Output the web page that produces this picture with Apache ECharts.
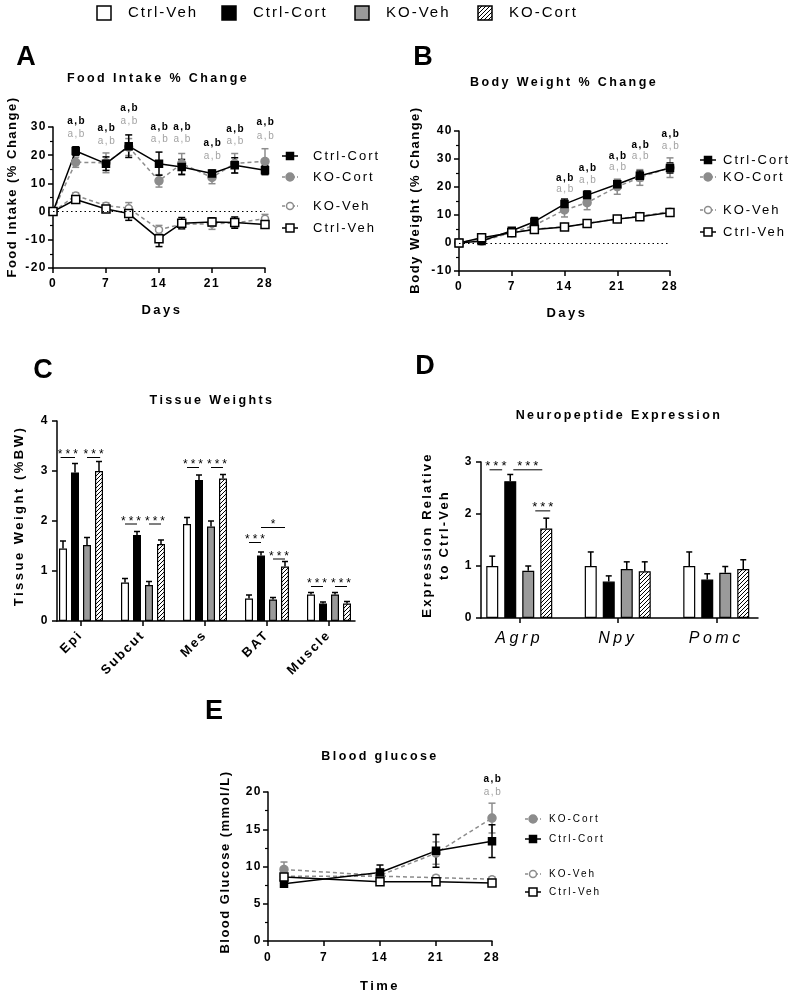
<!DOCTYPE html>
<html><head><meta charset="utf-8">
<script src="https://cdn.jsdelivr.net/npm/echarts@6/dist/echarts.min.js"></script>
<style>html,body{margin:0;padding:0;background:#fff}#c{width:790px;height:992px}</style>
</head><body><div id="c"></div>
<script>
// ---- letter spacing (GraphPad-like) : read "lsNN" marker from font family (tenths of px) ----
(function(){
  const P = CanvasRenderingContext2D.prototype;
  function sp(ctx){ const m = /ls(\d+)/.exec(ctx.font || ''); try{ ctx.letterSpacing = (m ? (+m[1]) / 10 : 0) + 'px'; }catch(e){} }
  const ft = P.fillText, st = P.strokeText, mt = P.measureText;
  P.fillText = function(){ sp(this); return ft.apply(this, arguments); };
  P.strokeText = function(){ sp(this); return st.apply(this, arguments); };
  P.measureText = function(){ sp(this); return mt.apply(this, arguments); };
})();

// ================= DATA =================
const groups = ['Ctrl-Veh', 'Ctrl-Cort', 'KO-Veh', 'KO-Cort'];

// A: Food intake % change
const daysAB = [0, 3, 7, 10, 14, 17, 21, 24, 28];
const foodCtrlCort    = [0, 21.5, 17.0, 23.2, 17.0, 15.8, 13.5, 16.4, 14.7];
const foodCtrlCortErr = [0, 1.5, 2.4, 4.0, 4.1, 2.7, 1.2, 2.7, 1.6];
const foodKoCort      = [0, 17.5, 17.3, 22.9, 10.9, 17.0, 12.1, 17.1, 17.8];
const foodKoCortErr   = [0, 1.8, 3.5, 3.0, 2.2, 3.6, 2.2, 3.5, 4.5];
const foodKoVeh       = [0, 5.7, 2.1, 1.2, -6.4, -4.5, -4.3, -4.0, -2.5];
const foodKoVehErr    = [0, 1.0, 1.0, 2.0, 1.5, 1.5, 2.0, 1.5, 1.5];
const foodCtrlVeh     = [0, 4.3, 0.9, -0.7, -9.6, -4.1, -3.7, -3.9, -4.6];
const foodCtrlVehErr  = [0, 1.0, 1.0, 2.4, 2.8, 2.0, 1.5, 2.0, 1.0];
const foodSigDays  = [3, 7, 10, 14, 17, 21, 24, 28];
const foodSigBlack = [32.0, 29.4, 36.5, 30.0, 29.8, 24.1, 29.2, 31.6];
const foodSigGray  = [27.4, 25.1, 32.2, 25.6, 25.6, 19.6, 25.1, 26.8];

// B: Body weight % change
const bwCtrlCort    = [0, 0.7, 4.4, 7.6, 13.9, 17.1, 21.0, 24.0, 26.8];
const bwCtrlCortErr = [0, 0.5, 0.8, 1.5, 1.8, 1.5, 1.3, 1.7, 1.8];
const bwKoCort      = [0, 0.7, 3.7, 6.3, 11.8, 14.4, 20.1, 23.4, 26.9];
const bwKoCortErr   = [0, 0.5, 0.8, 1.5, 2.5, 2.5, 2.7, 2.8, 3.5];
const bwKoVeh       = [0, 1.7, 3.7, 5.0, 5.8, 7.0, 8.6, 9.6, 11.2];
const bwKoVehErr    = [0, 0.5, 0.5, 0.5, 0.6, 0.5, 0.6, 0.7, 1.0];
const bwCtrlVeh     = [0, 1.9, 3.7, 4.8, 5.7, 7.0, 8.6, 9.4, 10.9];
const bwCtrlVehErr  = [0, 0.4, 0.5, 0.5, 0.5, 0.5, 0.5, 0.6, 0.8];
const bwSigDays  = [14, 17, 21, 24, 28];
const bwSigBlack = [23.3, 26.6, 31.1, 34.9, 38.7];
const bwSigGray  = [19.2, 22.4, 27.0, 31.0, 34.7];

// C: Tissue weights (%BW)
const tissues = ['Epi', 'Subcut', 'Mes', 'BAT', 'Muscle'];
const tisCtrlVeh     = [1.45, 0.77, 1.94, 0.45, 0.53];
const tisCtrlVehErr  = [0.15, 0.08, 0.13, 0.07, 0.04];
const tisCtrlCort    = [2.97, 1.72, 2.82, 1.31, 0.35];
const tisCtrlCortErr = [0.18, 0.07, 0.10, 0.07, 0.03];
const tisKoVeh       = [1.52, 0.72, 1.89, 0.43, 0.53];
const tisKoVehErr    = [0.15, 0.07, 0.11, 0.04, 0.04];
const tisKoCort      = [3.00, 1.54, 2.85, 1.09, 0.35];
const tisKoCortErr   = [0.19, 0.08, 0.08, 0.10, 0.04];
// [category, fromBar, toBar, y, text]
const tisSig = [[0,-0.2,1,3.27,'***'],[0,2,3.1,3.27,'***'],[1,0,1,1.94,'***'],[1,2,3,1.94,'***'],
  [2,0,1,3.07,'***'],[2,2,3,3.07,'***'],[3,0,1,1.57,'***'],[3,1,3,1.87,'*'],[3,2,3,1.24,'***'],
  [4,0,1,0.69,'***'],[4,2,3,0.69,'***']];

// D: Neuropeptide expression
const genes = ['Agrp', 'Npy', 'Pomc'];
const geneCtrlVeh     = [1.00, 1.00, 1.00];
const geneCtrlVehErr  = [0.19, 0.27, 0.27];
const geneCtrlCort    = [2.63, 0.70, 0.74];
const geneCtrlCortErr = [0.13, 0.11, 0.11];
const geneKoVeh       = [0.91, 0.94, 0.87];
const geneKoVehErr    = [0.09, 0.14, 0.12];
const geneKoCort      = [1.72, 0.90, 0.94];
const geneKoCortErr   = [0.20, 0.18, 0.18];
const geneSig = [[0,-0.15,0.55,2.85,'***'],[0,1.17,2.78,2.85,'***'],[0,2.39,3.22,2.06,'***']];

// E: Blood glucose
const glucDays = [2, 14, 21, 28];
const glucKoCort      = [9.6, 8.8, 11.8, 16.5];
const glucKoCortErr   = [1.0, 0.8, 1.5, 2.0];
const glucCtrlCort    = [7.7, 9.2, 12.1, 13.4];
const glucCtrlCortErr = [0.3, 1.0, 2.2, 2.2];
const glucKoVeh       = [8.7, 8.7, 8.5, 8.3];
const glucKoVehErr    = [0.3, 0.3, 0.3, 0.3];
const glucCtrlVeh     = [8.6, 7.95, 7.95, 7.8];
const glucCtrlVehErr  = [0.3, 0.3, 0.3, 0.3];
const glucSigDays  = [28];
const glucSigBlack = [21.7];
const glucSigGray  = [20.0];

// ================= STYLE =================
const FAM = ls => '"Liberation Sans", ls' + ls;
const GRAY = '#8c8c8c', BARGRAY = '#9a9a9a', SIGGRAY = '#a3a3a3';
const hc = document.createElement('canvas'); hc.width = 4; hc.height = 4;
(function(){ const g = hc.getContext('2d'); g.fillStyle = '#fff'; g.fillRect(0,0,4,4);
  g.strokeStyle = '#000'; g.lineWidth = 1; g.beginPath();
  g.moveTo(0,4); g.lineTo(4,0); g.moveTo(-1,1); g.lineTo(1,-1); g.moveTo(3,5); g.lineTo(5,3); g.stroke(); })();
const HATCH = { image: hc, repeat: 'repeat' };
const BARFILL = { 'Ctrl-Veh': '#fff', 'Ctrl-Cort': '#000', 'KO-Veh': BARGRAY, 'KO-Cort': HATCH };
const STY = {
  'Ctrl-Cort': { symbol: 'rect',   size: 7, fill: '#000', stroke: '#000', line: '#000', dash: 'solid' },
  'KO-Cort':   { symbol: 'circle', size: 8, fill: GRAY,   stroke: GRAY,   line: GRAY,   dash: [4, 3] },
  'KO-Veh':    { symbol: 'circle', size: 7, fill: '#fff', stroke: GRAY,   line: GRAY,   dash: [4, 3] },
  'Ctrl-Veh':  { symbol: 'rect',   size: 8, fill: '#fff', stroke: '#000', line: '#000', dash: 'solid' }
};

const AXLINE = { show: true, onZero: false, lineStyle: { color: '#000', width: 1.5 } };
const AXTICK = { show: true, inside: false, length: 5, lineStyle: { color: '#000', width: 1.5 } };
function lab(extra) { return Object.assign({ color: '#000', fontWeight: 'bold', fontSize: 12, fontFamily: FAM(15) }, extra || {}); }
function valAxis(gi, min, max, interval, labelExtra, minor) {
  const a = { type: 'value', gridIndex: gi, min, max, interval, axisLine: AXLINE, axisTick: AXTICK,
    axisLabel: lab(labelExtra), splitLine: { show: false } };
  if (minor) { a.minorTick = { show: true, splitNumber: 2, length: 3, lineStyle: { color: '#000', width: 1.2 } }; a.minorSplitLine = { show: false }; }
  return a;
}

// ================= SERIES BUILDERS =================
function lineSeries(name, ai, xs, ys, extra) {
  const s = STY[name];
  return Object.assign({ type: 'line', name, xAxisIndex: ai, yAxisIndex: ai,
    data: xs.map((x, i) => [x, ys[i]]), symbol: s.symbol, symbolSize: s.size, showSymbol: true,
    itemStyle: { color: s.fill, borderColor: s.stroke, borderWidth: 1.5 },
    lineStyle: { color: s.line, width: 1.5, type: s.dash }, z: 3 }, extra || {});
}
function errLine(name, ai, xs, ys, es, color) {
  const data = [];
  xs.forEach((x, i) => { if (es[i] > 0) data.push([x, ys[i] - es[i], ys[i] + es[i]]); });
  return { type: 'custom', xAxisIndex: ai, yAxisIndex: ai, z: 3, data, encode: { x: 0, y: [1, 2] },
    renderItem(p, api) {
      const a = api.coord([api.value(0), api.value(1)]), b = api.coord([api.value(0), api.value(2)]);
      const st = { stroke: color, lineWidth: 1.5 };
      return { type: 'group', children: [
        { type: 'line', shape: { x1: a[0], y1: a[1], x2: b[0], y2: b[1] }, style: st },
        { type: 'line', shape: { x1: a[0] - 3.5, y1: a[1], x2: a[0] + 3.5, y2: a[1] }, style: st },
        { type: 'line', shape: { x1: b[0] - 3.5, y1: b[1], x2: b[0] + 3.5, y2: b[1] }, style: st } ] };
    } };
}
function sigText(ai, xs, ys, color, bold) {
  return { type: 'custom', xAxisIndex: ai, yAxisIndex: ai, z: 4, data: xs.map((x, i) => [x, ys[i]]),
    renderItem(p, api) {
      const c = api.coord([api.value(0), api.value(1)]);
      return { type: 'text', x: c[0] + 1, y: c[1], style: { text: 'a,b', fill: color, fontSize: 10,
        fontWeight: bold ? 'bold' : 'normal', fontFamily: FAM(15), align: 'center', verticalAlign: 'middle',
        textAlign: 'center', textVerticalAlign: 'middle' } };
    } };
}
function barSeries(name, ai, vals, bw) {
  return { type: 'bar', name, xAxisIndex: ai, yAxisIndex: ai, data: vals, barWidth: bw, barGap: '50%',
    itemStyle: { color: BARFILL[name], borderColor: '#000', borderWidth: 1.2 }, z: 2 };
}
function barErr(ai, vals, errs, idx, pitch) {
  return { type: 'custom', xAxisIndex: ai, yAxisIndex: ai, z: 3,
    data: vals.map((v, i) => [i, v, v + errs[i]]), encode: { x: 0, y: [1, 2] },
    renderItem(p, api) {
      const off = (idx - 1.5) * pitch;
      const a = api.coord([api.value(0), api.value(1)]), b = api.coord([api.value(0), api.value(2)]);
      const st = { stroke: '#000', lineWidth: 1.5 };
      return { type: 'group', children: [
        { type: 'line', shape: { x1: a[0] + off, y1: a[1], x2: b[0] + off, y2: b[1] }, style: st },
        { type: 'line', shape: { x1: b[0] + off - 3, y1: b[1], x2: b[0] + off + 3, y2: b[1] }, style: st } ] };
    } };
}
function barSig(ai, sigs, pitch, fs) {
  return { type: 'custom', xAxisIndex: ai, yAxisIndex: ai, z: 4,
    data: sigs.map(s => [s[0], s[1], s[2], s[3]]),
    renderItem(p, api) {
      const s = sigs[p.dataIndex];
      const c = api.coord([api.value(0), api.value(3)]);
      const x1 = c[0] + (api.value(1) - 1.5) * pitch, x2 = c[0] + (api.value(2) - 1.5) * pitch;
      return { type: 'group', children: [
        { type: 'line', shape: { x1, y1: c[1], x2, y2: c[1] }, style: { stroke: '#000', lineWidth: 1 } },
        { type: 'text', x: (x1 + x2) / 2 + 1.5, y: c[1] + 5, style: { text: s[4], fill: '#000', fontSize: fs,
          fontFamily: FAM(30), align: 'center', verticalAlign: 'bottom', textAlign: 'center', textVerticalAlign: 'bottom' } } ] };
    } };
}

// ================= GRAPHIC (titles, letters, axis names, legends) =================
function txt(text, x, y, o) {
  o = o || {};
  return { type: 'text', x, y, rotation: o.rot || 0, z: 100, style: { text, fill: o.color || '#000',
    fontSize: o.size || 13, fontWeight: o.weight || 'bold', fontStyle: o.style || 'normal', fontFamily: FAM(o.ls == null ? 20 : o.ls),
    align: o.align || 'center', verticalAlign: 'middle', textAlign: o.align || 'center', textVerticalAlign: 'middle',
    lineHeight: o.lh || 16 } };
}
function legItem(label, x, y, tx, fs) {
  const s = STY[label], r = s.size / 2;
  const st = { fill: s.fill, stroke: s.stroke, lineWidth: 1.5 };
  return [
    { type: 'line', z: 100, shape: { x1: x - 8, y1: y, x2: x + 8, y2: y },
      style: { stroke: s.line, lineWidth: 1.5, lineDash: s.dash === 'solid' ? null : [3, 2] } },
    s.symbol === 'rect'
      ? { type: 'rect', z: 101, shape: { x: x - r, y: y - r, width: s.size, height: s.size }, style: st }
      : { type: 'circle', z: 101, shape: { cx: x, cy: y, r }, style: st },
    txt(label, tx, y, { size: fs, weight: 'normal', align: 'left', ls: 20 })
  ];
}
const graphics = [];
// top legend
[[97, 'Ctrl-Veh'], [222, 'Ctrl-Cort'], [355, 'KO-Veh'], [478, 'KO-Cort']].forEach(([x, name]) => {
  graphics.push({ type: 'rect', z: 100, shape: { x, y: 6, width: 14, height: 14 },
    style: { fill: BARFILL[name], stroke: '#000', lineWidth: 1.5 } });
  graphics.push(txt(name, x + 31, 13, { size: 15, weight: 'normal', align: 'left', ls: 20 }));
});
// letters
[['A', 26, 58], ['B', 423, 58], ['C', 43, 371], ['D', 425, 367], ['E', 214, 712]].forEach(([t, x, y]) =>
  graphics.push(txt(t, x, y, { size: 27, ls: 0 })));
// titles
graphics.push(txt('Food Intake % Change', 158, 79, { size: 12.5, ls: 24 }));
graphics.push(txt('Body Weight % Change', 564, 83, { size: 12.5, ls: 24 }));
graphics.push(txt('Tissue Weights', 212, 401, { size: 12.5, ls: 24 }));
graphics.push(txt('Neuropeptide Expression', 619, 416, { size: 12.5, ls: 24 }));
graphics.push(txt('Blood glucose', 380, 757, { size: 12.5, ls: 24 }));
// axis names
const R = Math.PI / 2;
graphics.push(txt('Food Intake (% Change)', 12, 187, { rot: R, size: 13, ls: 15 }));
graphics.push(txt('Days', 162, 310, { size: 13, ls: 25 }));
graphics.push(txt('Body Weight (% Change)', 415, 200, { rot: R, size: 13, ls: 15 }));
graphics.push(txt('Days', 567, 313, { size: 13, ls: 25 }));
graphics.push(txt('Tissue Weight (%BW)', 19, 516, { rot: R, size: 13, ls: 25 }));
graphics.push(txt('Expression Relative\nto Ctrl-Veh', 436, 535, { rot: R, size: 13, ls: 22, lh: 17 }));
graphics.push(txt('Blood Glucose (mmol/L)', 225, 862, { rot: R, size: 13, ls: 15 }));
graphics.push(txt('Time', 380, 986, { size: 13, ls: 25 }));
// line legends
[['Ctrl-Cort', 156], ['KO-Cort', 177], ['KO-Veh', 206], ['Ctrl-Veh', 228]].forEach(([n, y]) =>
  graphics.push(...legItem(n, 290, y, 313, 13)));
[['Ctrl-Cort', 160], ['KO-Cort', 177], ['KO-Veh', 210], ['Ctrl-Veh', 232]].forEach(([n, y]) =>
  graphics.push(...legItem(n, 708, y, 723, 13)));
[['KO-Cort', 819], ['Ctrl-Cort', 839], ['KO-Veh', 874], ['Ctrl-Veh', 892]].forEach(([n, y]) =>
  graphics.push(...legItem(n, 533, y, 549, 10)));

// ================= SERIES =================
const zeroLine = { markLine: { silent: true, symbol: 'none', label: { show: false },
  lineStyle: { type: [1.5, 3], color: '#000', width: 1.2 }, data: [{ yAxis: 0 }] } };
const series = [
  // A
  errLine('KO-Cort', 0, daysAB, foodKoCort, foodKoCortErr, GRAY),
  lineSeries('KO-Cort', 0, daysAB, foodKoCort, zeroLine),
  errLine('KO-Veh', 0, daysAB, foodKoVeh, foodKoVehErr, GRAY),
  lineSeries('KO-Veh', 0, daysAB, foodKoVeh),
  errLine('Ctrl-Cort', 0, daysAB, foodCtrlCort, foodCtrlCortErr, '#000'),
  lineSeries('Ctrl-Cort', 0, daysAB, foodCtrlCort),
  errLine('Ctrl-Veh', 0, daysAB, foodCtrlVeh, foodCtrlVehErr, '#000'),
  lineSeries('Ctrl-Veh', 0, daysAB, foodCtrlVeh),
  sigText(0, foodSigDays, foodSigBlack, '#000', true),
  sigText(0, foodSigDays, foodSigGray, SIGGRAY, false),
  // B
  errLine('KO-Cort', 1, daysAB, bwKoCort, bwKoCortErr, GRAY),
  lineSeries('KO-Cort', 1, daysAB, bwKoCort, zeroLine),
  errLine('KO-Veh', 1, daysAB, bwKoVeh, bwKoVehErr, GRAY),
  lineSeries('KO-Veh', 1, daysAB, bwKoVeh),
  errLine('Ctrl-Cort', 1, daysAB, bwCtrlCort, bwCtrlCortErr, '#000'),
  lineSeries('Ctrl-Cort', 1, daysAB, bwCtrlCort),
  errLine('Ctrl-Veh', 1, daysAB, bwCtrlVeh, bwCtrlVehErr, '#000'),
  lineSeries('Ctrl-Veh', 1, daysAB, bwCtrlVeh),
  sigText(1, bwSigDays, bwSigBlack, '#000', true),
  sigText(1, bwSigDays, bwSigGray, SIGGRAY, false),
  // C
  barSeries('Ctrl-Veh', 2, tisCtrlVeh, 8),
  barSeries('Ctrl-Cort', 2, tisCtrlCort, 8),
  barSeries('KO-Veh', 2, tisKoVeh, 8),
  barSeries('KO-Cort', 2, tisKoCort, 8),
  barErr(2, tisCtrlVeh, tisCtrlVehErr, 0, 12),
  barErr(2, tisCtrlCort, tisCtrlCortErr, 1, 12),
  barErr(2, tisKoVeh, tisKoVehErr, 2, 12),
  barErr(2, tisKoCort, tisKoCortErr, 3, 12),
  barSig(2, tisSig, 12, 12),
  // D
  barSeries('Ctrl-Veh', 4, geneCtrlVeh, 12),
  barSeries('Ctrl-Cort', 4, geneCtrlCort, 12),
  barSeries('KO-Veh', 4, geneKoVeh, 12),
  barSeries('KO-Cort', 4, geneKoCort, 12),
  barErr(4, geneCtrlVeh, geneCtrlVehErr, 0, 18),
  barErr(4, geneCtrlCort, geneCtrlCortErr, 1, 18),
  barErr(4, geneKoVeh, geneKoVehErr, 2, 18),
  barErr(4, geneKoCort, geneKoCortErr, 3, 18),
  barSig(4, geneSig, 18, 13),
  // E
  errLine('KO-Cort', 6, glucDays, glucKoCort, glucKoCortErr, GRAY),
  lineSeries('KO-Cort', 6, glucDays, glucKoCort),
  errLine('KO-Veh', 6, glucDays, glucKoVeh, glucKoVehErr, GRAY),
  lineSeries('KO-Veh', 6, glucDays, glucKoVeh),
  errLine('Ctrl-Cort', 6, glucDays, glucCtrlCort, glucCtrlCortErr, '#000'),
  lineSeries('Ctrl-Cort', 6, glucDays, glucCtrlCort),
  errLine('Ctrl-Veh', 6, glucDays, glucCtrlVeh, glucCtrlVehErr, '#000'),
  lineSeries('Ctrl-Veh', 6, glucDays, glucCtrlVeh),
  sigText(6, glucSigDays, glucSigBlack, '#000', true),
  sigText(6, glucSigDays, glucSigGray, SIGGRAY, false)
];

const hiddenX = gi => ({ type: 'value', gridIndex: gi, min: 0, max: 1, axisLine: AXLINE,
  axisTick: { show: false }, axisLabel: { show: false }, splitLine: { show: false } });
const catAxis = (gi, data, labelExtra) => ({ type: 'category', gridIndex: gi, data,
  axisLine: { show: false }, axisTick: Object.assign({ alignWithLabel: true }, AXTICK),
  axisLabel: lab(Object.assign({ interval: 0 }, labelExtra)), splitLine: { show: false } });

const option = {
  animation: false,
  backgroundColor: '#fff',
  grid: [
    { left: 53, top: 127, width: 212, height: 141 },
    { left: 459, top: 131, width: 211, height: 140 },
    { left: 50, top: 421, width: 310, height: 200 },
    { left: 57, top: 421, width: 298, height: 200 },
    { left: 470, top: 462, width: 295.5, height: 156 },
    { left: 481, top: 462, width: 277, height: 156 },
    { left: 268, top: 792, width: 224, height: 149 }
  ],
  xAxis: [
    valAxis(0, 0, 28, 7, { margin: 9 }),
    valAxis(1, 0, 28, 7, { margin: 9 }),
    catAxis(2, tissues, { rotate: 45, margin: 12, fontSize: 13, fontFamily: FAM(20) }),
    hiddenX(3),
    catAxis(4, genes, { fontStyle: 'italic', fontWeight: 'normal', fontSize: 16, margin: 11, fontFamily: FAM(35) }),
    hiddenX(5),
    valAxis(6, 0, 28, 7, { margin: 10 })
  ],
  yAxis: [
    valAxis(0, -20, 30, 10, { margin: 6 }, true),
    valAxis(1, -10, 40, 10, { margin: 6 }, true),
    { type: 'value', gridIndex: 2, min: 0, max: 4, show: false },
    valAxis(3, 0, 4, 1, { margin: 8 }),
    { type: 'value', gridIndex: 4, min: 0, max: 3, show: false },
    valAxis(5, 0, 3, 1, { margin: 8 }),
    valAxis(6, 0, 20, 5, { margin: 6 }, true)
  ],
  series,
  graphic: { elements: graphics }
};

const chart = echarts.init(document.getElementById('c'), null, { renderer: 'canvas' });
chart.setOption(option);
</script></body></html>
